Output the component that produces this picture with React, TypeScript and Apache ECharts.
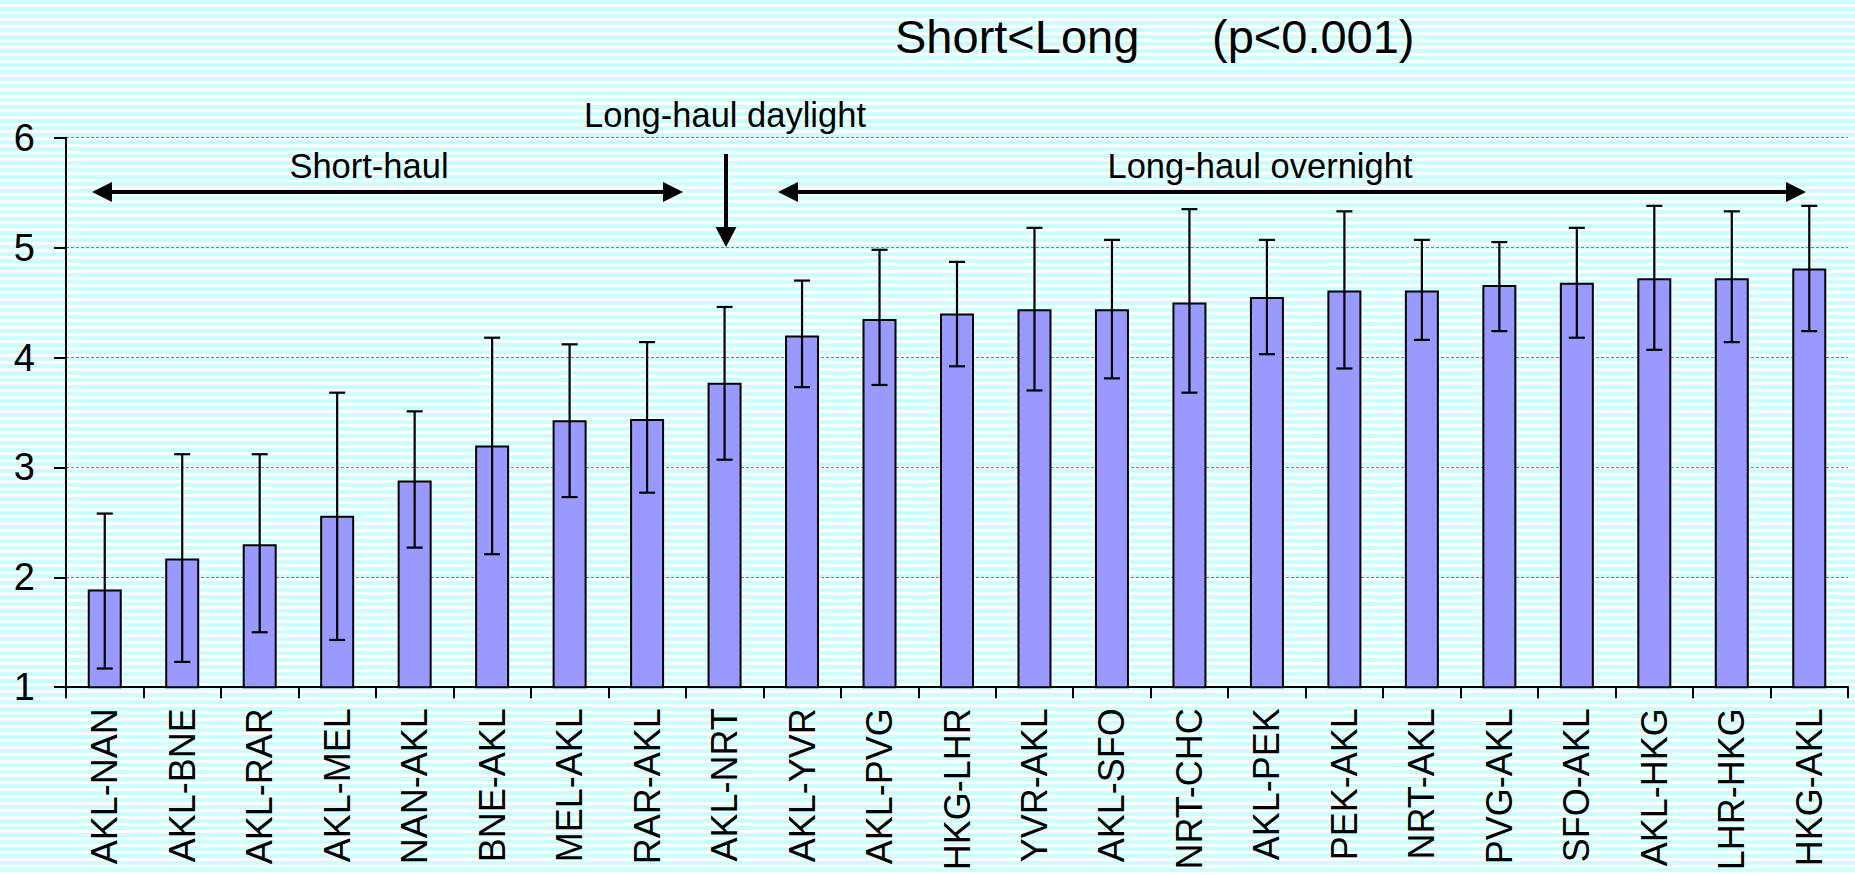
import React, { useEffect, useRef } from "react";
import * as echarts from "echarts";

const categories = [
  "AKL-NAN", "AKL-BNE", "AKL-RAR", "AKL-MEL", "NAN-AKL", "BNE-AKL", "MEL-AKL", "RAR-AKL",
  "AKL-NRT", "AKL-YVR", "AKL-PVG", "HKG-LHR", "YVR-AKL", "AKL-SFO", "NRT-CHC", "AKL-PEK",
  "PEK-AKL", "NRT-AKL", "PVG-AKL", "SFO-AKL", "AKL-HKG", "LHR-HKG", "HKG-AKL",
];
const means = [1.89, 2.17, 2.30, 2.56, 2.88, 3.20, 3.43, 3.44, 3.77, 4.20, 4.35, 4.40, 4.44, 4.44, 4.50, 4.55, 4.61, 4.61, 4.66, 4.68, 4.72, 4.72, 4.81];
const upper = [2.58, 3.12, 3.12, 3.68, 3.51, 4.18, 4.12, 4.14, 4.46, 4.70, 4.98, 4.87, 5.18, 5.07, 5.35, 5.07, 5.33, 5.07, 5.05, 5.18, 5.38, 5.33, 5.38];
const lower = [1.17, 1.23, 1.50, 1.43, 2.27, 2.21, 2.73, 2.77, 3.07, 3.73, 3.75, 3.92, 3.70, 3.81, 3.68, 4.03, 3.90, 4.16, 4.24, 4.18, 4.07, 4.14, 4.24];
const yTicks = { min: 1, max: 6, interval: 1 };

const titleLeft = "Short<Long";
const titleRight = "(p<0.001)";
const noteShort = "Short-haul";
const noteDay = "Long-haul daylight";
const noteNight = "Long-haul overnight";

const W = 1855;
const H = 875;
const FONT = "'Liberation Sans', Arial, Helvetica, sans-serif";

function buildStripes() {
  const out: any[] = [];
  for (let y = 0; y < H; y += 7) {
    out.push({
      type: "rect",
      silent: true,
      z: -100,
      shape: { x: 0, y, width: W, height: 4 },
      style: { fill: "#ccffff" },
    });
  }
  return out;
}

function hArrow(x1: number, x2: number, y: number) {
  const head = 20;
  const half = 10;
  return [
    { type: "line", z: 100, shape: { x1: x1 + head - 2, y1: y, x2: x2 - head + 2, y2: y }, style: { stroke: "#000", lineWidth: 4 } },
    { type: "polygon", z: 100, shape: { points: [[x1, y], [x1 + head, y - half], [x1 + head, y + half]] }, style: { fill: "#000" } },
    { type: "polygon", z: 100, shape: { points: [[x2, y], [x2 - head, y - half], [x2 - head, y + half]] }, style: { fill: "#000" } },
  ];
}

function vArrow(x: number, y1: number, y2: number) {
  const head = 20;
  const half = 10.5;
  return [
    { type: "line", z: 100, shape: { x1: x, y1, x2: x, y2: y2 - head + 2 }, style: { stroke: "#000", lineWidth: 4 } },
    { type: "polygon", z: 100, shape: { points: [[x, y2], [x - half, y2 - head], [x + half, y2 - head]] }, style: { fill: "#000" } },
  ];
}

function label(text: string, x: number, y: number, size: number, align = "center") {
  return {
    type: "text",
    z: 100,
    style: {
      text,
      x,
      y,
      fill: "#000",
      font: `${size}px ${FONT}`,
      textAlign: align,
      textVerticalAlign: "middle",
    },
  };
}

export default function App() {
  const ref = useRef<HTMLDivElement>(null);
  useEffect(() => {
    if (!ref.current) return;
    const chart = echarts.init(ref.current, undefined, { renderer: "svg" });
    const errData = categories.map((_, i) => [i, lower[i], upper[i]]);
    const option: any = {
      animation: false,
      backgroundColor: "#ffffff",
      textStyle: { fontFamily: FONT },
      grid: { left: 66, right: 7, top: 137.7, bottom: 187.8, containLabel: false },
      xAxis: {
        type: "category",
        data: categories,
        axisLine: { show: true, lineStyle: { color: "#000", width: 2 } },
        axisTick: { show: true, interval: 0, alignWithLabel: false, length: 11, lineStyle: { color: "#000", width: 2 } },
        axisLabel: { interval: 0, rotate: 90, margin: 21, color: "#000", fontSize: 36, fontFamily: FONT },
        splitLine: { show: false },
      },
      yAxis: {
        type: "value",
        min: yTicks.min,
        max: yTicks.max,
        interval: yTicks.interval,
        axisLine: { show: true, lineStyle: { color: "#000", width: 2 } },
        axisTick: { show: true, length: 12, lineStyle: { color: "#000", width: 2 } },
        axisLabel: { margin: 31, color: "#000", fontSize: 38, fontFamily: FONT },
        splitLine: { show: true, lineStyle: { color: "#808080", width: 1, type: [3, 2] } },
      },
      series: [
        {
          type: "bar",
          data: means,
          barWidth: 34,
          clip: true,
          itemStyle: { color: "#9999ff", borderColor: "#000", borderWidth: 2 },
        },
        {
          type: "custom",
          data: errData,
          z: 5,
          renderItem: (params: any, api: any) => {
            const i = api.value(0);
            const lo = api.coord([i, api.value(1)]);
            const hi = api.coord([i, api.value(2)]);
            const cap = 8;
            const st = { stroke: "#000", lineWidth: 2.2 };
            return {
              type: "group",
              children: [
                { type: "line", shape: { x1: hi[0], y1: hi[1], x2: lo[0], y2: lo[1] }, style: st },
                { type: "line", shape: { x1: hi[0] - cap, y1: hi[1], x2: hi[0] + cap, y2: hi[1] }, style: st },
                { type: "line", shape: { x1: lo[0] - cap, y1: lo[1], x2: lo[0] + cap, y2: lo[1] }, style: st },
              ],
            };
          },
        },
      ],
      graphic: [
        ...buildStripes(),
        label(titleLeft, 895, 36, 47, "left"),
        label(titleRight, 1212, 36, 47, "left"),
        label(noteDay, 725, 114.5, 34.5),
        label(noteShort, 369, 165.5, 34.5),
        label(noteNight, 1260, 165.5, 34.5),
        ...hArrow(92, 683, 192),
        ...hArrow(778, 1806, 192),
        ...vArrow(726, 154, 247),
      ],
    };
    chart.setOption(option);
    return () => chart.dispose();
  }, []);
  return <div ref={ref} style={{ position: "fixed", left: 0, top: 0, width: W, height: H }} />;
}
